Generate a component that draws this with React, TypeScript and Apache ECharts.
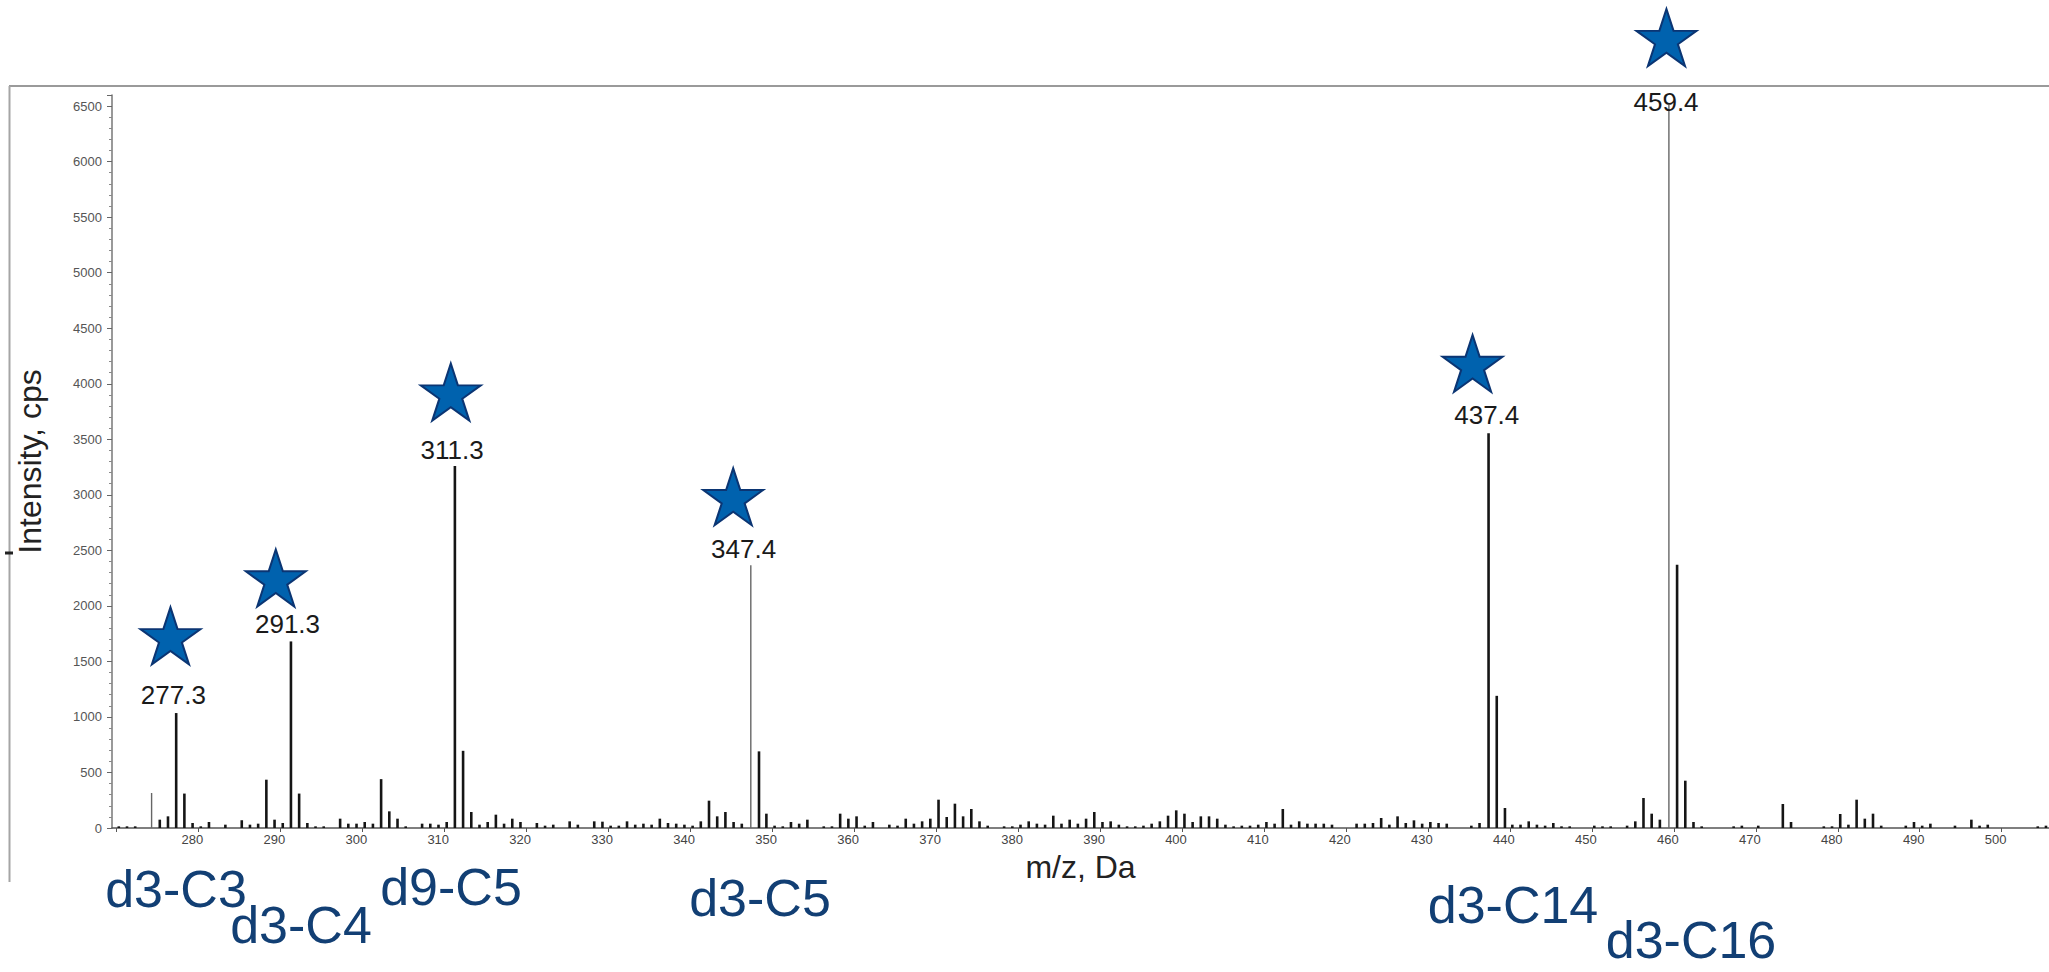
import React, { useEffect, useRef } from "react";
import * as echarts from "echarts";

// Mass spectrum: centroided peaks (m/z, intensity in cps)
const peakMz = [
  270.3, 271.3, 272.3, 274.3, 275.3, 276.3, 277.3, 278.3, 279.3, 280.3, 281.3, 283.3, 285.3, 286.3, 287.3,
  288.3, 289.3, 290.3, 291.3, 292.3, 293.3, 294.3, 295.3, 297.3, 298.3, 299.3, 300.3, 301.3, 302.3, 303.3,
  304.3, 305.3, 307.3, 308.3, 309.3, 310.3, 311.3, 312.3, 313.3, 314.3, 315.3, 316.3, 317.3, 318.3, 319.3,
  321.3, 322.3, 323.3, 325.3, 326.3, 328.3, 329.3, 330.3, 331.3, 332.3, 333.3, 334.3, 335.3, 336.3, 337.3,
  338.3, 339.3, 340.3, 341.3, 342.3, 343.3, 344.3, 345.3, 346.3, 347.4, 348.4, 349.3, 350.3, 351.3, 352.3,
  353.3, 354.3, 356.3, 357.3, 358.3, 359.3, 360.3, 361.3, 362.3, 364.3, 365.3, 366.3, 367.3, 368.3, 369.3,
  370.3, 371.3, 372.3, 373.3, 374.3, 375.3, 376.3, 378.3, 379.3, 380.3, 381.3, 382.3, 383.3, 384.3, 385.3,
  386.3, 387.3, 388.3, 389.3, 390.3, 391.3, 392.3, 393.3, 394.3, 395.3, 396.3, 397.3, 398.3, 399.3, 400.3,
  401.3, 402.3, 403.3, 404.3, 405.3, 406.3, 407.3, 408.3, 409.3, 410.3, 411.3, 412.3, 413.3, 414.3, 415.3,
  416.3, 417.3, 418.3, 421.3, 422.3, 423.3, 424.3, 425.3, 426.3, 427.3, 428.3, 429.3, 430.3, 431.3, 432.3,
  435.3, 436.3, 437.4, 438.4, 439.4, 440.3, 441.3, 442.3, 443.3, 444.3, 445.3, 446.3, 447.3, 450.3, 451.3,
  452.3, 454.3, 455.3, 456.3, 457.3, 458.3, 459.4, 460.4, 461.4, 462.4, 463.4, 467.3, 468.3, 470.3, 473.3,
  474.3, 478.3, 479.3, 480.3, 481.3, 482.3, 483.3, 484.3, 485.3, 488.3, 489.3, 490.3, 491.3, 494.3, 496.3,
  497.3, 498.3, 504.4, 505.4,
];

const peakIntensity = [
  15, 15, 15, 315, 75, 105, 1035, 310, 45, 15, 54, 30, 70, 30, 39,
  435, 75, 45, 1680, 310, 45, 15, 15, 84, 39, 39, 54, 39, 440, 150,
  84, 15, 39, 39, 30, 54, 3260, 695, 144, 30, 54, 120, 39, 84, 54,
  45, 21, 30, 60, 30, 60, 57, 21, 21, 60, 30, 39, 30, 84, 45,
  39, 30, 21, 60, 246, 105, 144, 54, 39, 2365, 690, 129, 21, 15, 54,
  39, 75, 15, 15, 129, 84, 105, 21, 54, 30, 21, 84, 39, 60, 84,
  255, 99, 219, 105, 171, 60, 21, 15, 15, 30, 60, 39, 30, 111, 39,
  75, 39, 84, 144, 54, 60, 30, 15, 15, 21, 39, 60, 111, 159, 129,
  54, 105, 105, 84, 30, 15, 21, 21, 30, 54, 39, 171, 30, 60, 39,
  39, 39, 30, 39, 39, 45, 90, 30, 105, 45, 69, 39, 54, 45, 39,
  21, 45, 3555, 1190, 180, 30, 30, 60, 30, 21, 45, 15, 15, 21, 15,
  15, 21, 60, 270, 129, 75, 6510, 2370, 426, 54, 15, 15, 21, 21, 216,
  54, 15, 15, 126, 30, 255, 84, 129, 21, 21, 54, 21, 39, 21, 75,
  21, 30, 15, 21,
];

// Peaks drawn as fine grey sticks
const thinPeaks = [274.3, 347.4, 459.4];

// Annotated peaks and their assigned species
const labeledMz = [277.3, 291.3, 311.3, 347.4, 437.4, 459.4];
const speciesNames = ["d3-C3", "d3-C4", "d9-C5", "d3-C5", "d3-C14", "d3-C16"];

// Placement of the star markers and m/z captions (axis units)
const starPlacement = [
  [276.6, 1730], [289.45, 2251], [310.8, 3925], [345.25, 2983], [435.45, 4183], [459.1, 7117],
];
const captionPlacement = [
  [276.95, 1202], [290.88, 1838], [310.97, 3407], [346.52, 2513], [437.18, 3721], [459.05, 6539],
];
// Species names beneath the axis (pixels)
const speciesPlacement = [
  [176, 889], [301, 925], [451, 887], [760, 898], [1513, 905], [1691, 940],
];

const STAR =
  "path://M0,-1L0.2245,-0.309L0.951,-0.309L0.363,0.118L0.588,0.809L0,0.382L-0.588,0.809L-0.363,0.118L-0.951,-0.309L-0.2245,-0.309Z";

const SANS = "'Liberation Sans', Arial, sans-serif";

export default function App() {
  const ref = useRef<HTMLDivElement>(null);

  useEffect(() => {
    if (!ref.current) return;
    const chart = echarts.init(ref.current, undefined, { renderer: "svg" });

    const sticks = peakMz.map((m, i) => [m, peakIntensity[i], thinPeaks.includes(m) ? 1 : 0]);
    const stars = labeledMz.map((m, i) => ({ name: String(m), value: starPlacement[i] }));
    const captions = labeledMz.map((m, i) => ({ name: m.toFixed(1), value: captionPlacement[i] }));

    const speciesText = speciesNames.map((s, i) => ({
      type: "text",
      x: speciesPlacement[i][0],
      y: speciesPlacement[i][1],
      silent: true,
      style: {
        text: s,
        fill: "#123F74",
        font: `52px ${SANS}`,
        textAlign: "center",
        textVerticalAlign: "middle",
      },
    }));

    chart.setOption({
      animation: false,
      backgroundColor: "#ffffff",
      grid: { left: 112, right: 0, top: 95, bottom: 144, containLabel: false },
      xAxis: {
        type: "value",
        min: 269.47,
        max: 505.77,
        splitNumber: 24,
        splitLine: { show: false },
        axisLine: { show: true, lineStyle: { color: "#555", width: 1.5 } },
        axisTick: { show: true, length: 4, lineStyle: { color: "#555" } },
        axisLabel: {
          fontSize: 13,
          color: "#444",
          margin: 5,
          fontFamily: SANS,
          showMinLabel: false,
          showMaxLabel: false,
          padding: [0, 12, 0, 0],
          formatter: (v: number) => (v >= 275 && v <= 500 ? String(Math.round(v)) : ""),
        },
        name: "m/z, Da",
        nameLocation: "middle",
        nameGap: 22,
        nameTextStyle: { fontSize: 32, color: "#222", fontFamily: SANS },
      },
      yAxis: {
        type: "value",
        min: 0,
        max: 6600,
        interval: 500,
        splitLine: { show: false },
        axisLine: { show: true, lineStyle: { color: "#777", width: 1.5 } },
        axisTick: { show: true, length: 5, lineStyle: { color: "#666" } },
        minorTick: { show: true, splitNumber: 5, length: 3, lineStyle: { color: "#888" } },
        axisLabel: {
          fontSize: 13,
          color: "#555",
          margin: 10,
          fontFamily: SANS,
          showMaxLabel: false,
          formatter: (v: number) => (v % 500 === 0 ? String(v) : ""),
        },
        name: "Intensity, cps",
        nameLocation: "middle",
        nameGap: 66,
        nameRotate: 90,
        nameTextStyle: { fontSize: 32, color: "#222", fontFamily: SANS },
      },
      series: [
        {
          type: "custom",
          name: "spectrum",
          data: sticks,
          encode: { x: 0, y: 1 },
          renderItem: (_params: any, api: any) => {
            const x = api.value(0);
            const top = api.coord([x, api.value(1)]);
            const base = api.coord([x, 0]);
            const thin = api.value(2) === 1;
            return {
              type: "line",
              shape: { x1: base[0], y1: base[1], x2: top[0], y2: top[1] },
              style: { stroke: thin ? "#666" : "#151515", lineWidth: thin ? 1.4 : 2.6 },
            };
          },
        },
        {
          type: "scatter",
          name: "stars",
          data: stars,
          clip: false,
          symbol: STAR,
          symbolSize: [60, 57],
          itemStyle: { color: "#0062AE", borderColor: "#0B3573", borderWidth: 2, opacity: 1 },
          z: 5,
        },
        {
          type: "scatter",
          name: "captions",
          data: captions,
          clip: false,
          symbolSize: 1,
          itemStyle: { color: "rgba(0,0,0,0)", opacity: 1 },
          label: {
            show: true,
            position: "inside",
            formatter: "{b}",
            fontSize: 26,
            color: "#1a1a1a",
            fontFamily: SANS,
          },
          z: 6,
        },
      ],
      graphic: [
        {
          type: "line",
          silent: true,
          shape: { x1: 9, y1: 86, x2: 2049, y2: 86 },
          style: { stroke: "#9a9a9a", lineWidth: 2 },
        },
        {
          type: "line",
          silent: true,
          shape: { x1: 9.5, y1: 86, x2: 9.5, y2: 882 },
          style: { stroke: "#a5a5a5", lineWidth: 2 },
        },
        {
          type: "line",
          silent: true,
          shape: { x1: 5, y1: 553, x2: 13, y2: 553 },
          style: { stroke: "#222", lineWidth: 3 },
        },
        ...speciesText,
      ],
    });

    return () => chart.dispose();
  }, []);

  return (
    <div
      ref={ref}
      style={{ position: "fixed", left: 0, top: 0, width: 2049, height: 972, background: "#fff" }}
    />
  );
}
